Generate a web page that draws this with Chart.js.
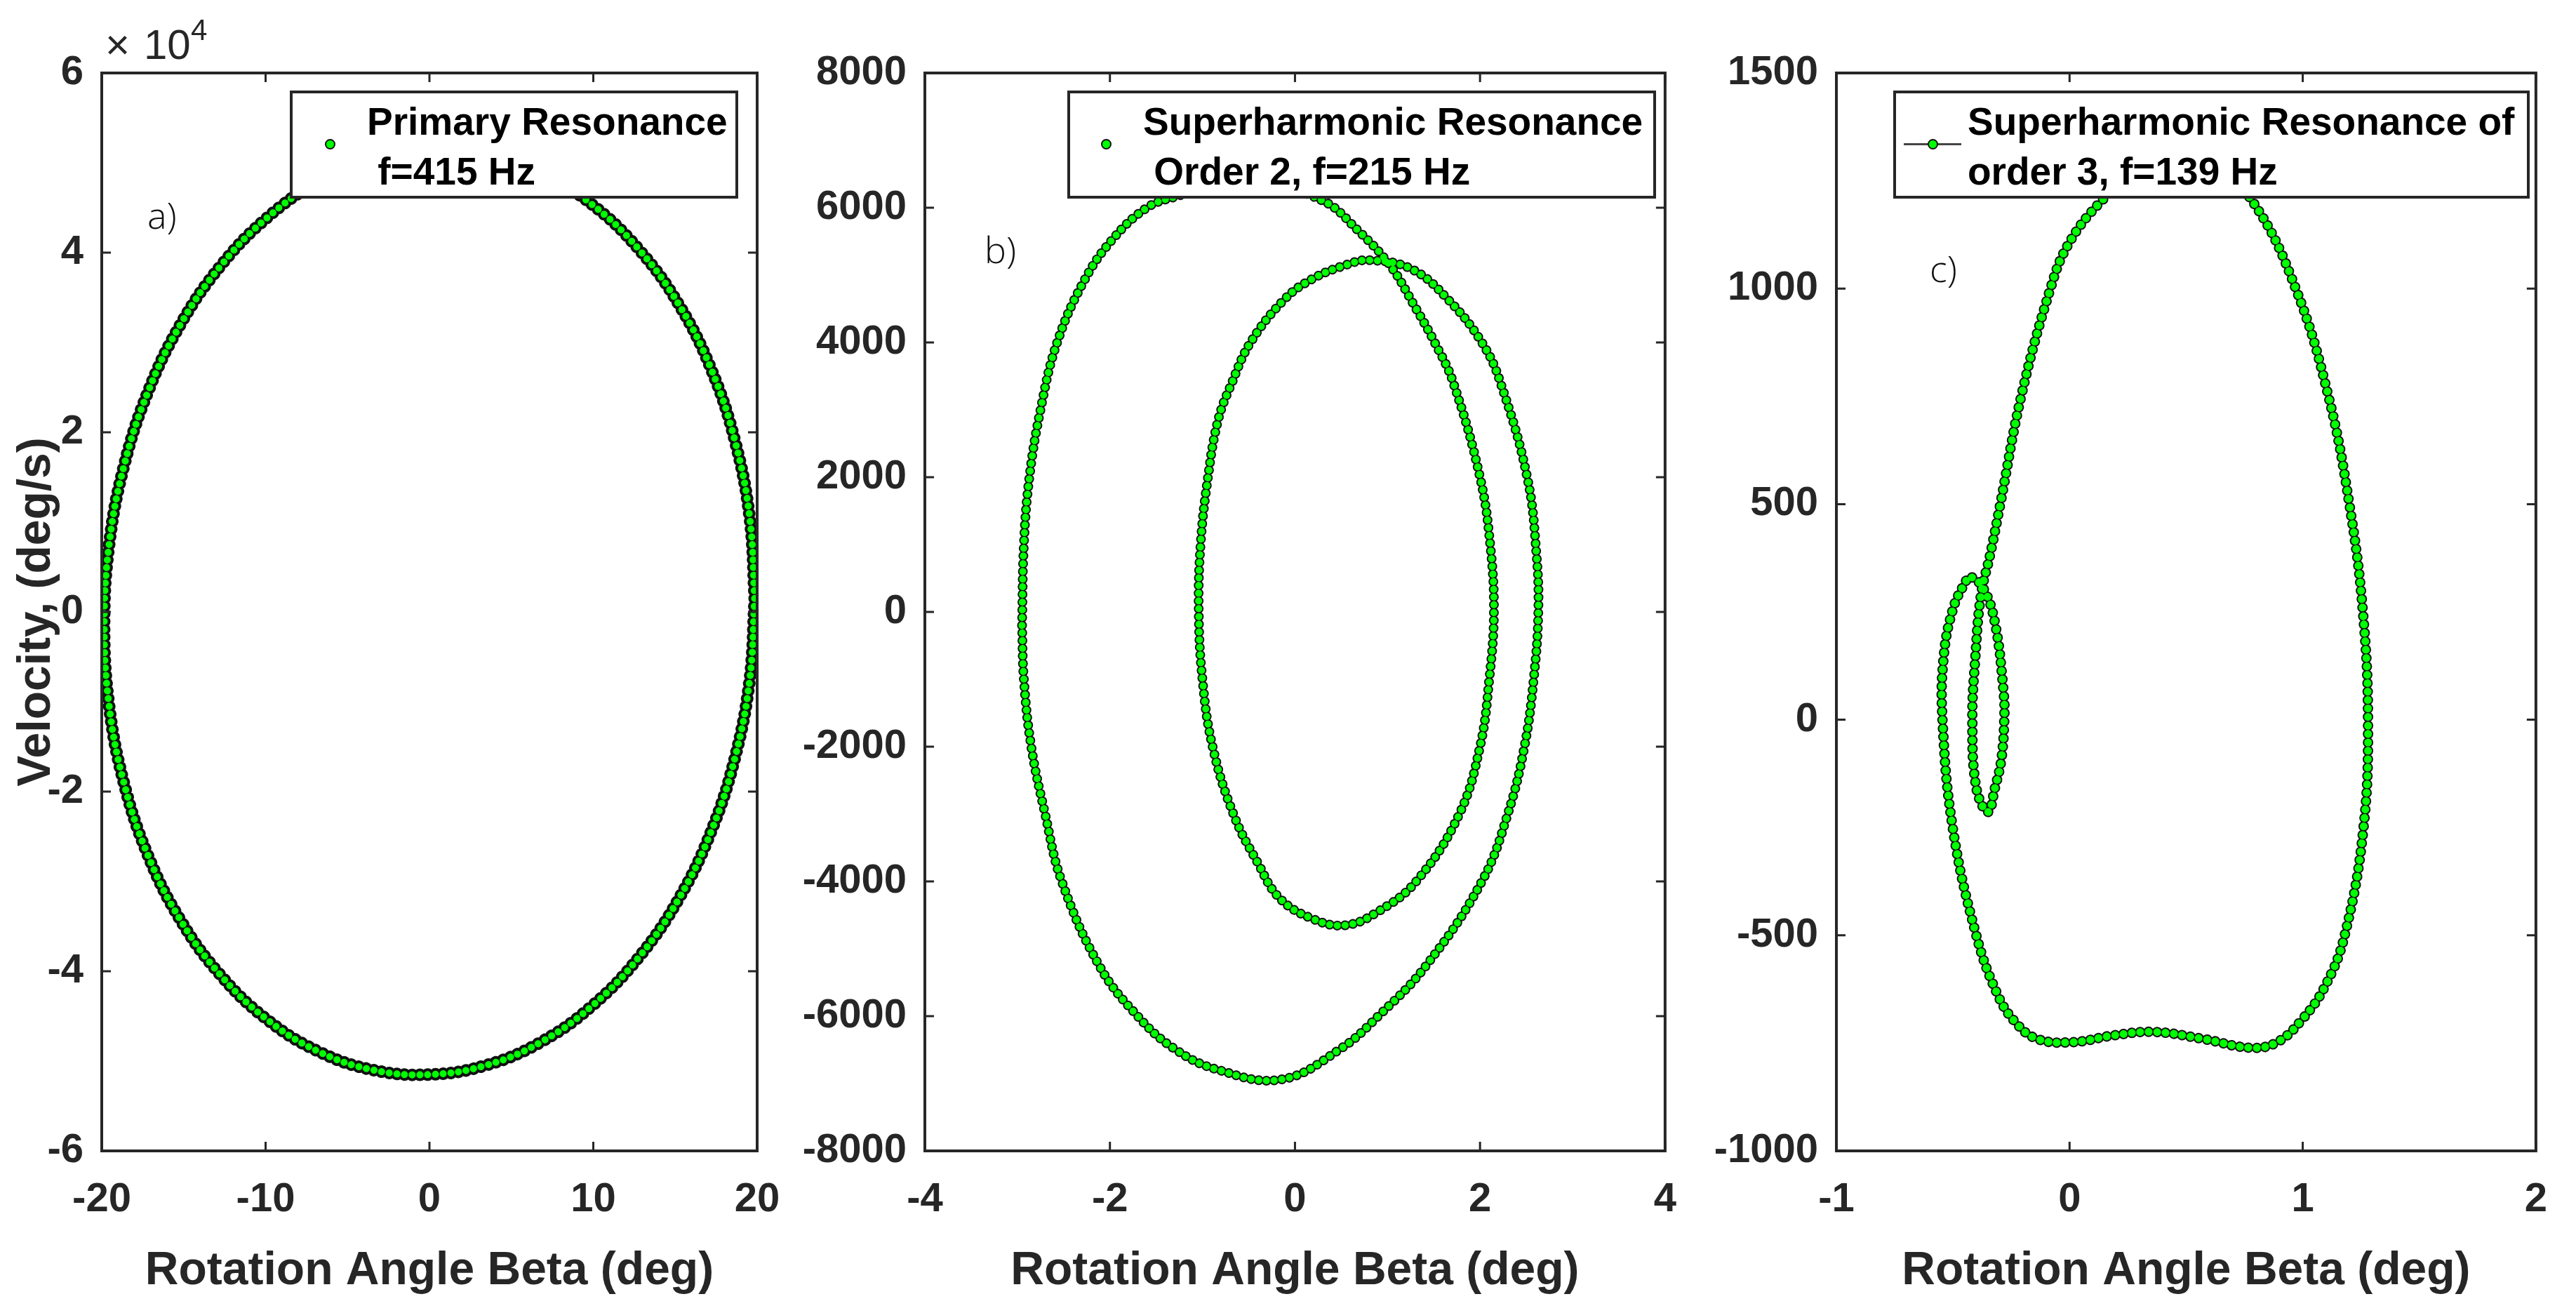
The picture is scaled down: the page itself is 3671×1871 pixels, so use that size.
<!doctype html>
<html lang="en">
<head>
<meta charset="utf-8">
<title>Phase portraits - rotation angle vs velocity</title>
<style>
  body { margin: 0; background: #fff; }
  #fig { position: relative; width: 3671px; height: 1871px; overflow: hidden; background: #fff; }
  canvas { position: absolute; top: 0; }
  .leg { position: absolute; box-sizing: border-box; border: 4px solid #262626; background: #fff; }
  .lt { position: absolute; font: bold 55px 'Liberation Sans', Arial, sans-serif; line-height: 71px; color: #000; white-space: pre; }
  .mk { position: absolute; width: 15px; height: 15px; box-sizing: border-box; border-radius: 50%; background: #00ff00; border: 2px solid #111; }
  .ln { position: absolute; height: 3px; background: #444; }
  .lab { position: absolute; font: 300 52px 'Open Sans', sans-serif; line-height: 52px; color: #111; }
  .exp { position: absolute; font: 400 60px 'Liberation Sans', Arial, sans-serif; line-height: 60px; color: #262626; }
</style>
</head>
<body>
<div id="fig">
  <canvas id="panelA" width="1180" height="1871" style="left:0px"></canvas>
  <canvas id="panelB" width="1330" height="1871" style="left:1100px"></canvas>
  <canvas id="panelC" width="1271" height="1871" style="left:2400px"></canvas>

  <!-- x10^4 multiplier of panel a -->
  <div class="exp" style="left:150px;top:34px">×</div>
  <div class="exp" style="left:205px;top:34px">10</div>
  <div class="exp" style="left:272px;top:22px;font-size:42px;line-height:42px">4</div>

  <!-- legends -->
  <div class="leg" style="left:413px;top:129px;width:639px;height:154px"></div>
  <div class="mk" style="left:462.5px;top:197.5px"></div>
  <div class="lt" style="left:523px;top:138px">Primary Resonance
 f=415 Hz</div>

  <div class="leg" style="left:1521px;top:129px;width:839px;height:154px"></div>
  <div class="mk" style="left:1568.5px;top:197.5px"></div>
  <div class="lt" style="left:1629px;top:138px">Superharmonic Resonance
 Order 2, f=215 Hz</div>

  <div class="leg" style="left:2698px;top:129px;width:907px;height:154px"></div>
  <div class="ln" style="left:2713px;top:204px;width:82px"></div>
  <div class="mk" style="left:2746.5px;top:197.5px"></div>
  <div class="lt" style="left:2804px;top:138px">Superharmonic Resonance of
order 3, f=139 Hz</div>

  <!-- panel letters -->
  <div class="lab" style="left:210px;top:280px">a)</div>
  <div class="lab" style="left:1403px;top:329px">b)</div>
  <div class="lab" style="left:2750px;top:356px">c)</div>
</div>

<script src="https://cdn.jsdelivr.net/npm/chart.js"></script>
<script>
// a) primary resonance, f=415 Hz
const betaA = [19.85, 19.55, 18.65, 17.19, 15.21, 12.76, 9.93, 6.79, 3.45, 0,
               -3.45, -6.79, -9.93, -12.76, -15.21, -17.19, -18.65, -19.55, -19.85, -19.55,
               -18.65, -17.19, -15.21, -12.76, -9.93, -6.79, -3.45, 0, 3.45, 6.79,
               9.93, 12.76, 15.21, 17.19, 18.65, 19.55, 19.85];
const velA = [1500, -7480, -16200, -24450, -31960, -38490, -43850, -47900, -50470, -51500,
              -50990, -48920, -45350, -40410, -34260, -27050, -19020, -10440, -1500, 7480,
              16200, 24450, 31960, 38490, 43850, 47900, 50470, 51500, 50990, 48920,
              45350, 40410, 34260, 27050, 19020, 10440, 1500];
const ticksAx = [-20, -10, 0, 10, 20];
const ticksAy = [-60000, -40000, -20000, 0, 20000, 40000, 60000];

// b) superharmonic resonance order 2, f=215 Hz
const betaB = [-2.95, -2.93, -2.87, -2.75, -2.57, -2.27, -1.96, -1.60, -1.30, -0.55,
               0.29, 0.69, 1.03, 1.28, 1.51, 1.71, 2.00, 2.11, 2.15, 2.10,
               2.00, 1.77, 1.31, 0.90, 0.54, 0.18, -0.17, -0.40, -0.66, -0.89,
               -1.00, -1.04, -1.02, -0.94, -0.83, -0.68, -0.48, -0.12, 0.18, 0.55,
               0.80, 1.26, 1.66, 2.02, 2.22, 2.51, 2.61, 2.63, 2.58, 2.48,
               2.30, 2.02, 1.41, 0.90, 0.49, -0.15, -0.84, -1.30, -1.70, -2.11,
               -2.52, -2.70, -2.85, -2.93, -2.95];
const velB = [-200, 1000, 2000, 3000, 4000, 4937, 5549, 6000, 6160, 6420,
              6110, 5650, 5140, 4570, 4000, 3407, 2000, 1000, 0, -1000,
              -2000, -3019, -4000, -4447, -4651, -4549, -4243, -3730, -3019, -2000,
              -1000, 0, 1000, 2000, 2850, 3407, 4000, 4631, 4937, 5150,
              5222, 5090, 4631, 4000, 3407, 2000, 857, 0, -1000, -2000,
              -3000, -4000, -5263, -6000, -6487, -6940, -6793, -6487, -6000, -5263,
              -4000, -3000, -2000, -1000, -200];
const ticksBx = [-4, -2, 0, 2, 4];
const ticksBy = [-8000, -6000, -4000, -2000, 0, 2000, 4000, 6000, 8000];

// c) superharmonic resonance order 3, f=139 Hz
const betaC = [0.46, 0.63, 0.79, 0.97, 1.11, 1.20, 1.257, 1.28, 1.26, 1.18,
               1.094, 0.99, 0.89, 0.78, 0.57, 0.36, 0.19, 0.01, -0.14, -0.235,
               -0.31, -0.40, -0.50, -0.545, -0.54, -0.50, -0.446, -0.427, -0.37, -0.32,
               -0.283, -0.28, -0.293, -0.32, -0.35, -0.40, -0.417, -0.404, -0.38, -0.34,
               -0.297, -0.207, -0.082, -0.006, 0.128, 0.29, 0.46];
const velC = [1300, 1275, 1198, 1000, 751, 500, 257, 0, -254, -500,
              -620, -700, -748, -761, -740, -724, -732, -748, -740, -700,
              -636, -500, -254, 0, 145, 257, 320, 332, 305, 225,
              65, 0, -94, -158, -214, -158, 0, 145, 289, 384,
              500, 751, 1000, 1102, 1198, 1270, 1300];
const ticksCx = [-1, 0, 1, 2];
const ticksCy = [-1000, -500, 0, 500, 1000, 1500];

const FAMILY = "'Liberation Sans', Arial, sans-serif";
const font = (size, weight) => ({ family: FAMILY, size: size, weight: weight || 'bold', lineHeight: 1 });

// MATLAB style box with inward ticks on all four sides
const boxPlugin = {
  id: 'matlabBox',
  afterDatasetsDraw(chart) {
    const { ctx, chartArea: a, scales } = chart;
    const len = 13;
    ctx.save();
    ctx.strokeStyle = '#262626';
    ctx.lineWidth = 3;
    ctx.beginPath();
    scales.x.ticks.forEach(t => {
      const px = scales.x.getPixelForValue(t.value);
      ctx.moveTo(px, a.bottom); ctx.lineTo(px, a.bottom - len);
      ctx.moveTo(px, a.top); ctx.lineTo(px, a.top + len);
    });
    scales.y.ticks.forEach(t => {
      const py = scales.y.getPixelForValue(t.value);
      ctx.moveTo(a.left, py); ctx.lineTo(a.left + len, py);
      ctx.moveTo(a.right, py); ctx.lineTo(a.right - len, py);
    });
    ctx.stroke();
    ctx.lineWidth = 4;
    ctx.strokeRect(a.left, a.top, a.right - a.left, a.bottom - a.top);
    ctx.restore();
  }
};

const panels = [
  { id: 'panelA', xs: betaA, ys: velA, xt: ticksAx, yt: ticksAy, yDiv: 10000,
    padLeft: 20, yWidth: 125, padRight: 101, yTitle: 'Velocity, (deg/s)',
    outer: 18, inner: 10, gap: 11 },
  { id: 'panelB', xs: betaB, ys: velB, xt: ticksBx, yt: ticksBy, yDiv: 1,
    padLeft: 0, yWidth: 218, padRight: 44, yTitle: '',
    outer: 14, inner: 10, gap: 11 },
  { id: 'panelC', xs: betaC, ys: velC, xt: ticksCx, yt: ticksCy, yDiv: 1,
    padLeft: 0, yWidth: 217, padRight: 40, yTitle: '',
    outer: 15, inner: 11, gap: 12 }
];

function draw(p) {
  const pts = p.xs.map((x, i) => ({ x: x, y: p.ys[i] }));
  // dotted strokes imitate the dense circle markers (dark edge below, green fill on top)
  const line = {
    data: pts, showLine: true, tension: 0.4, pointRadius: 0, pointHoverRadius: 0,
    borderCapStyle: 'round', borderJoinStyle: 'round', borderDash: [0.01, p.gap], fill: false
  };
  new Chart(document.getElementById(p.id), {
    type: 'scatter',
    data: {
      datasets: [
        Object.assign({}, line, { label: 'fill', borderColor: '#00ff00', borderWidth: p.inner, order: 1 }),
        Object.assign({}, line, { label: 'edge', borderColor: '#111111', borderWidth: p.outer, order: 2 })
      ]
    },
    options: {
      responsive: false,
      devicePixelRatio: 1,
      animation: false,
      events: [],
      layout: { padding: { left: p.padLeft, right: p.padRight, top: 104, bottom: 26 } },
      elements: { line: { capBezierPoints: false } },
      plugins: { legend: { display: false }, tooltip: { enabled: false } },
      scales: {
        x: {
          type: 'linear',
          min: p.xt[0], max: p.xt[p.xt.length - 1],
          afterBuildTicks: s => { s.ticks = p.xt.map(v => ({ value: v })); },
          afterFit: s => { s.height = 205; },
          grid: { display: false, drawTicks: false },
          border: { display: false },
          ticks: { font: font(58), color: '#262626', padding: 41, autoSkip: false, maxRotation: 0,
                   callback: v => String(v) },
          title: { display: true, text: 'Rotation Angle Beta (deg)', font: font(66), color: '#262626', padding: 0 }
        },
        y: {
          type: 'linear',
          min: p.yt[0], max: p.yt[p.yt.length - 1],
          afterBuildTicks: s => { s.ticks = p.yt.map(v => ({ value: v })); },
          afterFit: s => { s.width = p.yWidth; },
          grid: { display: false, drawTicks: false },
          border: { display: false },
          ticks: { font: font(58), color: '#262626', padding: 26, autoSkip: false,
                   callback: v => String(v / p.yDiv) },
          title: { display: p.yTitle !== '', text: p.yTitle, font: font(66), color: '#262626', padding: 0 }
        }
      }
    },
    plugins: [boxPlugin]
  });
}

panels.forEach(draw);
</script>
</body>
</html>
